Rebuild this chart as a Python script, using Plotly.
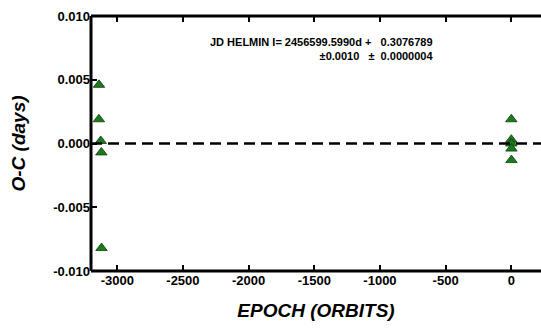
import plotly.graph_objects as go

# O-C residuals for the two groups of minima timings
epoch = [-3139, -3140, -3126, -3121, -3120, 0, 0, 0, 1, 1]
oc_days = [0.0046, 0.0019, 0.0002, -0.0007, -0.0082,
           0.0019, 0.0003, 0.0000, -0.0004, -0.0013]

x_ticks = [-3000, -2500, -2000, -1500, -1000, -500, 0]
x_tick_text = ["-3000", "-2500", "-2000", "-1500", "-1000", "-500", "0"]
y_ticks = [-0.010, -0.005, 0.000, 0.005, 0.010]
y_tick_text = ["-0.010", "-0.005", "0.000", "0.005", "0.010"]

ephemeris_line1 = "JD HELMIN I= 2456599.5990d +\u00a0\u00a0 0.3076789"
ephemeris_line2 = "±0.0010\u00a0\u00a0 ±\u00a0 0.0000004"

font_family = "Liberation Sans, Arial, sans-serif"


def bold(labels):
    return [f"<b>{t}</b>" for t in labels]


fig = go.Figure()

fig.add_trace(go.Scatter(
    x=epoch, y=oc_days, mode="markers",
    marker=dict(symbol="triangle-up", size=10, color="#1e7a1e",
                line=dict(color="#0b3d0b", width=0.8)),
    showlegend=False,
))

fig.add_hline(y=0, line=dict(color="black", width=2.5, dash="11px,6px"))

# heavy frame: left, bottom and top edges of the plotting area
frame = dict(type="line", xref="paper", yref="paper", layer="above",
             line=dict(color="black", width=3))
fig.add_shape(x0=0, x1=0, y0=0, y1=1, **frame)
fig.add_shape(x0=0, x1=1, y0=0, y1=0, **frame)
fig.add_shape(x0=0, x1=1, y0=1, y1=1, **frame)

fig.add_annotation(
    x=0.765, y=0.93, xref="paper", yref="paper",
    xanchor="right", yanchor="top", align="right", showarrow=False,
    text=f"<b>{ephemeris_line1}</b><br><b>{ephemeris_line2}</b>",
    font=dict(family=font_family, size=11, color="black"),
)

axis_common = dict(
    showline=False,
    ticks="inside", ticklen=6, tickwidth=2, tickcolor="black",
    showgrid=False, zeroline=False,
    tickfont=dict(family=font_family, size=13, color="black"),
)

fig.update_xaxes(
    range=[-3200, 226], tickvals=x_ticks, ticktext=bold(x_tick_text),
    mirror="ticks",
    title=dict(text="<b><i>EPOCH (ORBITS)</i></b>", standoff=16,
               font=dict(family=font_family, size=19, color="black")),
    **axis_common,
)
fig.update_yaxes(
    range=[-0.010, 0.010], tickvals=y_ticks, ticktext=bold(y_tick_text),
    title=dict(text="<b><i>O-C (days)</i></b>", standoff=22,
               font=dict(family=font_family, size=19, color="black")),
    **axis_common,
)

fig.update_layout(
    template="none",
    width=541, height=330,
    margin=dict(l=91, r=0, t=16, b=59),
    paper_bgcolor="white", plot_bgcolor="white",
    font=dict(family=font_family, color="black"),
)

fig.write_html("out.html")
